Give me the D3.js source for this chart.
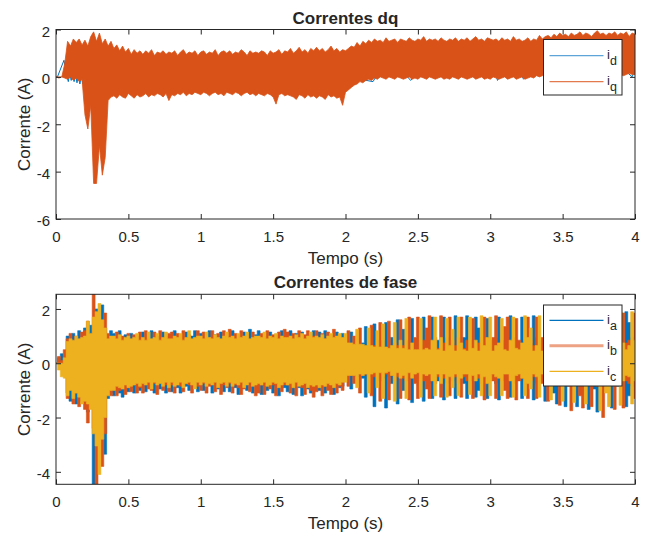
<!DOCTYPE html>
<html>
<head>
<meta charset="utf-8">
<script src="https://cdn.jsdelivr.net/npm/d3@7"></script>
<style>
  body { margin: 0; background: #fff; }
  svg text { font-family: "Liberation Sans", Arial, Helvetica, sans-serif; fill: #262626; }
</style>
</head>
<body>
<svg id="fig" width="647" height="533"></svg>
<script>
// ---- Recorded currents -------------------------------------------------
// Envelope records: max / min of each 20 ms window, t = 0 ... 4 s.
const dt = 0.02;

// q-axis current, window maxima / minima (A)
const iqHi = [
  0, 0, 0, 0.55, 1.5, 1.3, 1.6, 1.45, 1.6, 1.35,
  1.55, 1.3, 1.7, 1.9, 1.5, 1.85, 1.4, 1.6, 1.3, 1.5,
  1.2, 1.35, 1.1, 1.3, 1.05, 1.2, 0.95, 1.15, 1.0, 1.1,
  0.95, 1.1, 1.0, 1.15, 0.9, 1.05, 1.0, 1.1, 0.95, 1.05,
  1.0, 1.1, 0.9, 1.05, 1.15, 0.95, 1.05, 1.0, 1.1, 0.9,
  1.05, 1.1, 0.95, 1.05, 1.0, 1.15, 0.9, 1.05, 1.1, 1.0,
  1.1, 0.95, 1.05, 1.0, 1.15, 1.05, 0.9, 1.1, 1.0, 1.05,
  1.0, 1.1, 1.05, 0.9, 1.1, 1.0, 1.05, 1.15, 0.95, 1.1,
  1.05, 1.2, 1.0, 1.1, 1.25, 1.05, 1.15, 1.0, 1.2, 1.1,
  1.25, 1.1, 1.2, 1.05, 1.15, 1.3, 1.1, 1.2, 1.05, 1.15,
  1.1, 1.2, 1.3, 1.25, 1.45, 1.3, 1.5, 1.4, 1.55, 1.45,
  1.6, 1.5, 1.55, 1.45, 1.65, 1.5, 1.55, 1.6, 1.45, 1.6,
  1.55, 1.5, 1.65, 1.55, 1.5, 1.6, 1.55, 1.7, 1.5, 1.6,
  1.55, 1.6, 1.5, 1.65, 1.55, 1.5, 1.6, 1.55, 1.65, 1.5,
  1.6, 1.55, 1.65, 1.5, 1.6, 1.7, 1.55, 1.6, 1.5, 1.65,
  1.6, 1.55, 1.6, 1.5, 1.65, 1.55, 1.6, 1.5, 1.7, 1.55,
  1.6, 1.5, 1.55, 1.65, 1.5, 1.6, 1.55, 1.75, 1.6, 1.7,
  1.75, 1.65, 1.8, 1.7, 1.85, 1.75, 1.8, 1.7, 1.85, 1.75,
  1.8, 1.9, 1.75, 1.85, 1.8, 1.7, 1.85, 1.95, 1.8, 1.85,
  1.75, 1.85, 1.8, 1.9, 1.75, 1.85, 1.8, 1.9, 1.7, 1.85,
  1.8
];
const iqLo = [
  0, -0.05, 0, -0.05, -0.1, 0.0, -0.15, -0.05, -0.2, -0.1,
  -1.6, -2.2, -1.2, -4.5, -4.5, -2.9, -4.15, -3.4, -1.0, -0.85,
  -0.8, -0.9, -0.75, -0.85, -0.9, -0.7, -0.8, -0.9, -0.75, -0.85,
  -0.8, -0.7, -0.85, -0.75, -0.8, -0.7, -0.75, -0.85, -0.7, -1.0,
  -0.75, -0.8, -0.7, -0.75, -0.65, -0.8, -0.7, -0.75, -0.65, -0.7,
  -0.75, -0.65, -0.7, -0.8, -0.7, -0.65, -0.75, -0.7, -0.8, -0.65,
  -0.7, -0.75, -0.65, -0.7, -0.8, -0.7, -0.65, -0.75, -0.7, -0.8,
  -0.7, -0.75, -0.8, -0.7, -0.75, -0.85, -1.15, -0.75, -0.7, -0.8,
  -0.75, -0.8, -0.85, -0.95, -0.75, -0.8, -0.9, -0.75, -0.85, -0.8,
  -0.9, -0.8, -0.85, -0.95, -0.75, -0.85, -0.8, -0.9, -0.85, -1.2,
  -0.65, -0.55, -0.45, -0.35, -0.3, -0.2, -0.25, -0.15, -0.1, -0.15,
  -0.05, -0.1, 0, -0.05, -0.1, 0, -0.05, -0.1, 0, -0.05,
  -0.1, -0.05, 0, -0.1, -0.05, -0.1, 0, -0.05, -0.1, 0,
  -0.05, -0.1, -0.05, 0, -0.1, -0.05, -0.1, 0, -0.05, -0.1,
  0, -0.05, -0.1, -0.05, 0, -0.1, -0.05, 0, -0.1, -0.05,
  -0.1, 0, -0.05, -0.1, -0.05, 0, -0.1, -0.05, 0, -0.1,
  -0.05, 0, -0.1, -0.05, 0, -0.05, 0.05, 0, 0.05, 0.1,
  0.05, 0.1, 0.05, 0.15, 0.1, 0.05, 0.1, 0.15, 0.05, 0.1,
  0.1, 0.05, 0.15, 0.1, 0.05, 0.1, 0.15, 0.1, 0.05, 0.1,
  0.15, 0.1, 0.05, 0.1, 0.15, 0.1, 0.05, 0.1, 0.15, 0.1,
  0.1
];

// d-axis current, turning points (s, A)
const idTime = [0, 0.01, 0.055, 0.075, 0.085, 0.095, 0.105, 0.115, 0.125, 0.135, 0.145,
  0.155, 0.165, 0.175, 0.185, 0.2, 0.3, 0.4, 0.5, 0.6, 0.7, 0.8, 0.9, 1.0, 1.1, 1.2,
  1.3, 1.4, 1.5, 1.6, 1.7, 1.8, 1.9, 2.0, 2.1, 2.19, 2.3, 2.45, 2.6, 2.8, 3.0, 3.05,
  3.15, 3.23, 3.4, 3.6, 3.8, 3.98, 4.0];
const idValue = [0, 0, 0.7, 0.05, -0.2, 0.15, -0.15, 0.2, -0.2, 0.1, -0.25,
  0.1, -0.3, 0.05, -0.3, 0.4, -0.3, 0.5, -0.4, 0.5, -0.4, 0.5, -0.4, 0.5, -0.4, 0.5,
  -0.45, 0.5, -0.4, 0.5, -0.45, 0.5, -0.5, 0.6, -0.1, -0.2, 0.9, -0.15, 0.9, 0.1, 0.9, -0.15,
  0.9, -0.1, 1.0, 0.3, 1.0, 0.0, 0.3];

// Phase currents, window maxima / minima (A)
const iaHi = [
  0, 0.2, 0.35, 0.1, 1.0, 0.6, 1.1, 0.5, 1.2, 0.7,
  1.3, 1.1, 1.4, 1.2, 2.0, 1.5, 2.15, 1.3, 1.0, 1.2,
  1.1, 0.8, 1.2, 0.9, 1.05, 0.7, 1.1, 0.85, 1.0, 0.75,
  1.15, 0.7, 0.9, 1.2, 0.6, 1.0, 0.75, 1.15, 0.8, 0.95,
  0.9, 1.2, 0.75, 1.05, 0.8, 1.15, 0.7, 1.0, 1.2, 0.8,
  1.1, 0.75, 0.95, 1.2, 0.7, 1.05, 0.85, 1.15, 0.75, 1.0,
  0.85, 1.2, 0.8, 1.05, 0.7, 1.15, 0.9, 1.25, 0.75, 1.05,
  1.2, 0.75, 1.0, 0.85, 1.15, 0.8, 1.05, 0.75, 1.2, 0.9,
  0.85, 1.2, 0.8, 1.1, 0.75, 1.15, 0.9, 1.05, 0.8, 1.2,
  0.9, 1.15, 0.8, 1.2, 0.85, 1.05, 0.8, 1.15, 0.9, 1.1,
  0.65, 0.45, 1.15, 0.5, 0.65, 0.45, 0.75, 1.35, 0.55, 0.5,
  1.45, 0.55, 0.5, 0.85, 1.5, 0.65, 0.95, 0.55, 1.6, 0.55,
  1.25, 0.65, 0.75, 1.65, 0.65, 0.85, 0.55, 1.7, 0.65, 0.95,
  1.7, 0.65, 0.85, 0.55, 1.7, 0.95, 0.65, 0.75, 1.75, 0.85,
  0.65, 0.95, 1.75, 0.55, 0.85, 1.7, 1.3, 0.65, 0.75, 1.65,
  0.85, 0.55, 0.95, 1.7, 0.65, 0.75, 0.95, 1.75, 0.65, 0.85,
  0.65, 1.7, 0.85, 0.55, 0.75, 1.75, 0.95, 0.65, 0.85, 1.8,
  0.75, 0.95, 1.4, 1.85, 0.65, 0.95, 1.8, 0.85, 0.75, 1.05,
  1.85, 0.75, 0.95, 0.65, 1.9, 0.85, 1.05, 1.85, 0.75, 0.95,
  0.75, 0.85, 1.9, 0.75, 1.05, 0.85, 0.65, 1.9, 1.5, 0.95,
  0.75
];
const iaLo = [
  0, 0, 0, -0.3, -1.1, -1.4, -0.9, -1.5, -1.0, -1.4,
  -1.5, -1.8, -1.3, -4.45, -2.5, -2.8, -2.2, -3.35, -1.3, -1.1,
  -1.2, -0.9, -1.1, -1.25, -0.8, -1.05, -0.9, -1.1, -0.85, -1.0,
  -0.7, -1.05, -0.8, -0.6, -1.1, -0.75, -0.95, -0.7, -1.1, -0.8,
  -1.05, -0.7, -0.9, -1.1, -0.75, -0.85, -1.0, -0.7, -0.9, -1.05,
  -0.75, -1.0, -0.8, -0.7, -1.1, -0.8, -0.95, -0.7, -1.05, -0.85,
  -1.05, -0.75, -0.9, -1.15, -0.8, -0.7, -1.0, -0.8, -1.1, -0.75,
  -0.8, -1.15, -0.75, -1.0, -0.7, -1.1, -0.85, -1.2, -0.75, -0.9,
  -1.05, -0.8, -1.15, -0.75, -0.9, -1.2, -0.8, -0.95, -1.1, -0.75,
  -0.85, -1.0, -0.75, -1.1, -0.85, -0.95, -1.15, -0.8, -0.9, -0.85,
  -0.45, -0.4, -0.95, -0.45, -0.5, -0.4, -0.55, -1.25, -0.45, -0.4,
  -1.6, -0.45, -0.65, -0.55, -1.65, -0.5, -0.75, -0.45, -1.5, -0.5,
  -1.0, -0.5, -0.55, -1.45, -0.5, -0.65, -0.45, -1.4, -0.55, -0.75,
  -1.3, -0.5, -0.65, -0.45, -1.35, -0.75, -0.55, -0.65, -1.3, -0.65,
  -0.5, -0.75, -1.3, -0.5, -0.65, -1.25, -1.0, -0.55, -0.55, -1.3,
  -0.65, -0.5, -0.75, -1.35, -0.5, -0.55, -0.65, -1.25, -0.55, -0.65,
  -0.5, -1.3, -0.65, -0.5, -0.55, -1.35, -0.75, -0.55, -0.65, -1.4,
  -0.65, -0.85, -1.1, -1.5, -0.55, -0.75, -1.6, -0.75, -0.65, -0.85,
  -1.6, -0.65, -0.85, -0.55, -1.7, -0.75, -0.95, -1.8, -0.65, -0.85,
  -0.65, -0.75, -1.65, -0.65, -0.85, -0.75, -0.55, -1.6, -1.2, -0.85,
  -0.65
];
const ibHi = [
  0, 0.25, 0.1, 0.5, 0.9, 1.1, 0.7, 1.0, 0.8, 1.15,
  1.2, 1.55, 1.0, 2.55, 1.6, 1.3, 1.5, 1.85, 1.1, 0.9,
  0.9, 1.15, 0.8, 1.0, 0.85, 1.1, 0.8, 1.05, 0.9, 1.15,
  0.8, 1.2, 0.7, 0.85, 1.15, 0.75, 1.2, 0.8, 1.0, 1.1,
  1.15, 0.8, 1.1, 0.7, 1.2, 0.85, 1.05, 0.75, 0.9, 1.2,
  0.8, 1.15, 0.75, 0.9, 1.2, 0.8, 1.1, 0.75, 1.2, 0.85,
  1.25, 0.8, 1.1, 0.75, 1.2, 0.85, 1.05, 0.8, 1.15, 0.9,
  0.8, 1.1, 0.9, 1.2, 0.75, 1.05, 0.85, 1.15, 0.8, 1.25,
  1.15, 0.85, 1.1, 0.8, 1.2, 0.9, 1.05, 1.2, 0.85, 1.0,
  1.2, 0.85, 1.1, 0.9, 1.15, 0.8, 1.25, 0.85, 1.05, 0.9,
  0.5, 1.2, 0.55, 1.0, 0.45, 1.3, 0.55, 0.5, 0.65, 1.4,
  0.65, 0.85, 1.5, 0.55, 0.5, 1.55, 0.55, 0.75, 0.65, 1.6,
  0.65, 0.85, 1.7, 0.55, 0.95, 1.7, 0.65, 0.85, 1.3, 1.75,
  0.65, 0.95, 0.55, 1.75, 0.75, 0.55, 1.7, 0.85, 0.65, 0.95,
  1.7, 0.55, 0.85, 0.75, 1.65, 0.65, 0.75, 0.95, 1.7, 0.55,
  0.75, 0.95, 1.75, 0.65, 0.85, 1.35, 1.7, 0.55, 0.95, 1.65,
  0.85, 0.65, 0.55, 1.7, 0.85, 0.65, 1.7, 0.75, 0.95, 0.55,
  1.85, 0.65, 0.85, 0.75, 1.8, 0.85, 0.65, 1.05, 1.85, 0.75,
  0.85, 1.4, 1.8, 0.85, 0.75, 1.85, 0.65, 0.95, 0.85, 1.85,
  0.95, 0.65, 0.85, 1.85, 0.75, 0.95, 1.85, 0.75, 0.85, 0.65,
  1.85
];
const ibLo = [
  0, 0, -0.1, -0.2, -1.3, -0.8, -1.5, -1.1, -1.6, -1.2,
  -1.7, -2.2, -1.6, -2.4, -4.45, -2.0, -3.8, -2.6, -1.0, -1.2,
  -0.9, -1.2, -1.0, -0.8, -1.15, -0.9, -1.05, -0.8, -1.1, -0.9,
  -1.1, -0.7, -0.95, -1.0, -0.75, -1.15, -0.7, -1.0, -0.8, -1.05,
  -0.8, -1.1, -0.7, -0.85, -1.05, -0.75, -0.8, -1.1, -0.7, -0.85,
  -1.0, -0.75, -1.1, -0.85, -0.7, -1.05, -0.75, -1.15, -0.8, -0.9,
  -0.75, -1.1, -0.8, -0.9, -1.15, -0.95, -0.75, -1.05, -0.8, -1.2,
  -1.1, -0.8, -1.15, -0.75, -0.95, -0.8, -1.2, -0.75, -1.05, -0.8,
  -0.8, -1.1, -0.85, -1.2, -0.8, -0.9, -1.15, -0.75, -1.0, -1.25,
  -1.05, -0.8, -1.2, -0.85, -1.0, -1.15, -0.8, -1.1, -0.85, -1.0,
  -0.4, -0.85, -0.45, -0.75, -0.35, -1.1, -0.45, -0.4, -0.5, -1.2,
  -0.5, -0.55, -1.4, -0.5, -0.4, -1.35, -0.45, -0.65, -0.5, -1.3,
  -0.55, -0.65, -1.35, -0.5, -0.75, -1.3, -0.55, -0.65, -0.95, -1.3,
  -0.55, -0.75, -0.5, -1.25, -0.55, -0.45, -1.2, -0.55, -0.5, -0.75,
  -1.25, -0.5, -0.65, -0.55, -1.3, -0.5, -0.55, -0.75, -1.35, -0.45,
  -0.55, -0.65, -1.3, -0.5, -0.65, -1.0, -1.3, -0.5, -0.75, -1.35,
  -0.65, -0.55, -0.45, -1.3, -0.65, -0.5, -1.3, -0.55, -0.75, -0.5,
  -1.4, -0.55, -0.75, -0.65, -1.55, -0.65, -0.55, -0.85, -1.75, -0.65,
  -0.75, -1.2, -1.65, -0.75, -0.65, -1.6, -0.55, -0.85, -0.75, -2.0,
  -0.75, -0.55, -0.75, -1.7, -0.65, -0.85, -1.65, -0.65, -0.75, -0.55,
  -1.3
];
const icHi = [
  0, 0, 0, 0.2, 0.8, 0.9, 0.85, 1.0, 0.9, 0.95,
  1.0, 1.55, 1.1, 1.7, 1.9, 2.2, 1.6, 1.3, 0.9, 1.0,
  1.0, 0.9, 1.05, 0.85, 0.95, 1.0, 0.9, 0.95, 1.1, 0.85,
  0.95, 0.85, 1.15, 0.9, 0.95, 1.1, 0.85, 0.95, 1.15, 0.9,
  0.9, 1.0, 0.95, 1.1, 0.85, 0.95, 1.2, 0.9, 0.95, 1.0,
  1.0, 0.9, 1.15, 0.95, 0.9, 1.05, 0.95, 0.9, 1.0, 1.15,
  0.95, 1.0, 0.9, 1.1, 0.95, 1.0, 1.15, 0.9, 0.95, 1.0,
  1.0, 0.95, 1.15, 0.9, 1.0, 0.95, 1.1, 0.9, 1.0, 0.95,
  0.95, 1.0, 0.9, 1.05, 0.95, 1.1, 0.9, 1.0, 1.15, 0.95,
  1.0, 0.95, 1.05, 0.9, 1.0, 1.1, 0.95, 1.0, 1.1, 0.95,
  1.1, 0.75, 0.75, 0.7, 1.25, 0.7, 0.7, 0.65, 1.3, 0.65,
  0.6, 1.2, 0.6, 1.45, 0.6, 0.55, 0.65, 1.5, 0.55, 0.85,
  0.55, 1.65, 0.5, 0.75, 0.5, 0.5, 1.65, 0.5, 0.55, 0.5,
  0.85, 1.7, 0.5, 0.95, 0.45, 1.65, 0.65, 1.25, 0.45, 1.7,
  0.75, 0.5, 0.45, 1.7, 0.55, 0.85, 0.45, 1.75, 0.65, 0.95,
  1.7, 0.45, 0.65, 0.75, 1.65, 0.5, 0.45, 0.85, 1.7, 0.55,
  0.5, 0.75, 1.75, 0.95, 1.3, 0.45, 0.65, 1.75, 0.45, 0.85,
  0.65, 1.8, 0.5, 0.95, 0.75, 1.85, 0.5, 0.65, 0.95, 1.8,
  0.65, 0.5, 0.75, 1.85, 0.5, 0.95, 0.55, 0.75, 1.9, 0.65,
  1.45, 1.85, 0.5, 0.95, 0.55, 1.9, 0.75, 0.5, 0.65, 1.9,
  0.85
];
const icLo = [
  0, -0.25, -0.5, -0.55, -1.2, -1.0, -1.3, -1.1, -1.25, -1.5,
  -1.4, -1.5, -1.7, -2.6, -3.05, -4.1, -2.8, -2.0, -1.2, -1.0,
  -1.0, -0.85, -0.9, -0.95, -0.8, -0.9, -0.85, -0.8, -0.75, -0.85,
  -0.75, -0.8, -0.7, -0.95, -0.7, -0.8, -0.75, -0.85, -0.7, -0.9,
  -0.7, -0.85, -0.8, -0.7, -0.9, -0.75, -0.7, -0.8, -0.95, -0.7,
  -0.8, -0.7, -0.85, -0.75, -0.8, -0.7, -0.9, -0.75, -0.7, -0.85,
  -0.7, -0.85, -0.75, -0.8, -0.7, -0.9, -0.8, -0.7, -0.85, -0.8,
  -0.75, -0.8, -0.7, -0.85, -0.8, -0.7, -0.75, -0.9, -0.8, -0.7,
  -0.8, -0.75, -0.9, -0.7, -0.85, -0.8, -0.75, -0.9, -0.8, -0.85,
  -0.8, -0.9, -0.8, -0.85, -0.75, -0.8, -0.9, -0.75, -0.8, -0.7,
  -0.7, -0.45, -0.45, -0.45, -0.9, -0.4, -0.45, -0.4, -1.1, -0.4,
  -0.35, -0.9, -0.35, -1.3, -0.35, -0.3, -0.45, -1.4, -0.35, -0.55,
  -0.45, -1.3, -0.35, -0.55, -0.4, -0.35, -1.25, -0.4, -0.45, -0.4,
  -0.65, -1.2, -0.4, -0.75, -0.4, -1.25, -0.5, -0.9, -0.4, -1.2,
  -0.55, -0.4, -0.4, -1.15, -0.45, -0.65, -0.4, -1.2, -0.5, -0.75,
  -1.2, -0.4, -0.5, -0.55, -1.2, -0.4, -0.4, -0.65, -1.25, -0.45,
  -0.4, -0.55, -1.2, -0.75, -0.95, -0.4, -0.5, -1.25, -0.4, -0.65,
  -0.55, -1.35, -0.45, -0.75, -0.65, -1.4, -0.45, -0.5, -0.75, -1.45,
  -0.55, -0.45, -0.65, -1.5, -0.45, -0.75, -0.45, -0.65, -1.75, -0.55,
  -1.1, -1.6, -0.45, -0.75, -0.45, -1.55, -0.65, -0.45, -0.5, -1.5,
  -0.65
];

// ---- Axis ticks and text ------------------------------------------------
const timeTicks = [0, 0.5, 1, 1.5, 2, 2.5, 3, 3.5, 4];
const dqTicks = [2, 0, -2, -4, -6];
const phaseTicks = [2, 0, -2, -4];
const dqNames = ["d", "q"];
const phaseNames = ["a", "b", "c"];

const blue = "#0072BD", orange = "#D95319", yellow = "#EDB120";
const axisColor = "#262626";

const svg = d3.select("#fig");
const sampleTime = d3.range(iqHi.length).map(i => i * dt);

function panel(cfg) {
  const x = d3.scaleLinear().domain([0, 4]).range([56, 635]);
  const y = d3.scaleLinear().domain(cfg.yLim).range([cfg.bottom, cfg.top]);
  const g = svg.append("g");
  const clipId = "clip-" + cfg.id;
  g.append("clipPath").attr("id", clipId)
    .append("rect").attr("x", 56).attr("y", cfg.top)
    .attr("width", 579).attr("height", cfg.bottom - cfg.top);
  const plot = g.append("g").attr("clip-path", `url(#${clipId})`);

  // axes: ticks point inward on all four sides
  const fmt = d => String(d);
  const bottomAxis = g.append("g").attr("transform", `translate(0,${cfg.bottom})`)
    .call(d3.axisBottom(x).tickValues(timeTicks).tickSizeInner(-5).tickSizeOuter(0).tickFormat(fmt));
  bottomAxis.selectAll("text").attr("y", 23).attr("dy", null);
  g.append("g").attr("transform", `translate(0,${cfg.top})`)
    .call(d3.axisTop(x).tickValues(timeTicks).tickSizeInner(-5).tickSizeOuter(0).tickFormat(""));
  g.append("g").attr("transform", "translate(56,0)")
    .call(d3.axisLeft(y).tickValues(cfg.yTicks).tickSizeInner(-5).tickSizeOuter(0)
      .tickPadding(6).tickFormat(fmt))
    .selectAll("text").attr("dy", "0.45em");
  g.append("g").attr("transform", "translate(635,0)")
    .call(d3.axisRight(y).tickValues(cfg.yTicks).tickSizeInner(-5).tickSizeOuter(0).tickFormat(""));

  g.selectAll(".domain").remove();
  g.selectAll(".tick line").attr("stroke", axisColor);
  g.selectAll(".tick text").style("font-size", "15px").attr("fill", axisColor);

  // title and labels
  g.append("text").attr("x", 345.5).attr("y", cfg.top - 6)
    .attr("text-anchor", "middle").style("font-size", "17px").style("font-weight", "bold")
    .text(cfg.title);
  g.append("text").attr("x", 345.5).attr("y", cfg.bottom + 45)
    .attr("text-anchor", "middle").style("font-size", "17px").text("Tempo (s)");
  g.append("text")
    .attr("transform", `translate(29.5,${(cfg.top + cfg.bottom) / 2}) rotate(-90)`)
    .attr("text-anchor", "middle").style("font-size", "17px").text("Corrente (A)");

  return { g, plot, x, y };
}

function legend(g, cfg) {
  const lg = g.append("g");
  lg.append("rect").attr("x", cfg.x).attr("y", cfg.y)
    .attr("width", 78.5).attr("height", cfg.height)
    .attr("fill", "#fff").attr("stroke", axisColor).attr("stroke-width", 1);
  cfg.items.forEach((it, k) => {
    const ly = cfg.y + cfg.first + k * cfg.step;
    lg.append("line").attr("x1", cfg.x + 6).attr("x2", cfg.x + 60)
      .attr("y1", ly).attr("y2", ly)
      .attr("stroke", it.legendColor).attr("stroke-width", it.width);
    const t = lg.append("text").attr("x", cfg.x + 63.5).attr("y", ly + 3.5)
      .style("font-size", "13px");
    t.append("tspan").text("i");
    t.append("tspan").attr("dy", 6).style("font-size", "12.5px").text(it.name);
  });
}

// ---- Correntes dq ----------------------------------------------------
{
  const p = panel({ id: "dq", top: 29.5, bottom: 219, yLim: [-6, 2], yTicks: dqTicks, title: "Correntes dq" });
  const { plot, x, y } = p;

  const idLine = d3.line().x(d => x(d[0])).y(d => y(d[1]));
  plot.append("path").datum(d3.zip(idTime, idValue))
    .attr("d", idLine).attr("fill", "none").attr("stroke", blue).attr("stroke-width", 1);

  const iqArea = d3.area().x((d, i) => x(sampleTime[i])).y0(d => y(d[0])).y1(d => y(d[1]));
  plot.append("path").datum(d3.zip(iqLo, iqHi))
    .attr("d", iqArea).attr("fill", orange).attr("stroke", orange).attr("stroke-width", 0.8);

  legend(p.g, { x: 543.5, y: 39.5, height: 55.5, first: 16.2, step: 26, items: [
    { name: dqNames[0], legendColor: "#5FA4D8", width: 1.2 },
    { name: dqNames[1], legendColor: "#E27A4E", width: 1.2 }
  ]});
  p.g.append("rect").attr("x", 56).attr("y", 29.5).attr("width", 579).attr("height", 189.5)
    .attr("fill", "none").attr("stroke", axisColor).attr("stroke-width", 1);
}

// ---- Correntes de fase -------------------------------------------------
{
  const p = panel({ id: "abc", top: 294.3, bottom: 484.3, yLim: [-4.46, 2.54], yTicks: phaseTicks, title: "Correntes de fase" });
  const { plot, x, y } = p;

  const band = d3.area().curve(d3.curveStep)
    .x((d, i) => x(sampleTime[i])).y0(d => y(d[0])).y1(d => y(d[1]));
  [[iaLo, iaHi, blue], [ibLo, ibHi, orange], [icLo, icHi, yellow]].forEach(([lo, hi, c]) => {
    plot.append("path").datum(d3.zip(lo, hi))
      .attr("d", band).attr("fill", c).attr("stroke", c).attr("stroke-width", 0.6);
  });

  legend(p.g, { x: 543.5, y: 305, height: 81, first: 15.3, step: 25.5, items: [
    { name: phaseNames[0], legendColor: blue, width: 1.2 },
    { name: phaseNames[1], legendColor: "#EDA284", width: 3 },
    { name: phaseNames[2], legendColor: yellow, width: 1.2 }
  ]});
  p.g.append("rect").attr("x", 56).attr("y", 294.3).attr("width", 579).attr("height", 190)
    .attr("fill", "none").attr("stroke", axisColor).attr("stroke-width", 1);
}
</script>
</body>
</html>
